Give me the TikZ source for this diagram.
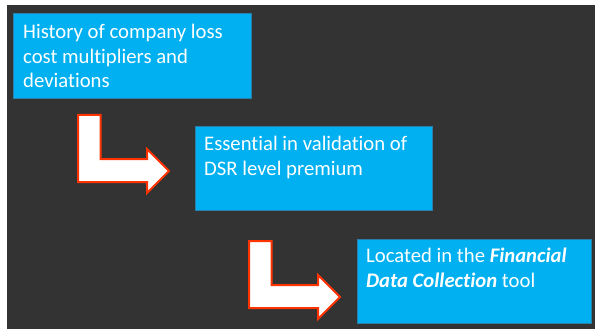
\documentclass[tikz,border=0pt]{standalone}
\usepackage{fontspec}
\setmainfont{Carlito}[RawFeature=-liga]
\definecolor{bgdark}{HTML}{333333}
\definecolor{boxblue}{HTML}{00B0F0}
\definecolor{boxedge}{HTML}{2A7FA8}
\definecolor{arrowred}{HTML}{FF3300}
\begin{document}
\begin{tikzpicture}[x=1pt,y=-1pt,
  infobox/.style={draw=boxedge, line width=0.8pt, fill=boxblue, inner sep=0pt, anchor=north west},
  infotext/.style={anchor=north west, inner sep=0pt, align=left, text=white,
    font=\fontsize{20.7}{24.7}\selectfont},
  bentarrow/.style={draw=arrowred, fill=white, line width=2pt, line join=miter}]
  % canvas
  \useasboundingbox (0,0) rectangle (595,329);
  \fill[white] (0,0) rectangle (595,329);
  \fill[bgdark] (7,5) rectangle (595,329);

  % text boxes
  \node[infobox, minimum width=238, minimum height=85] (b1) at (13,13) {};
  \node[infobox, minimum width=237, minimum height=84] (b2) at (195,126) {};
  \node[infobox, minimum width=234, minimum height=84] (b3) at (357,239) {};

  \node[infotext] (t1) at (23,24) {History of company loss\\cost multipliers and\\deviations};
  \node[infotext] (t2) at (204,136) {Essential in validation of\\DSR level premium};
  \node[infotext] (t3) at (366,248) {Located in the \textbf{\textit{Financial}}\\\textbf{\textit{Data Collection}} tool};

  % bent arrows between the boxes
  \foreach \dx/\dy in {78/115, 249/241}
    \draw[bentarrow, shift={(\dx,\dy)}]
      (0,0) -- (22.7,0) -- (22.7,44) -- (69,44) -- (69,34) -- (91,56)
      -- (69,78) -- (69,67) -- (0,67) -- cycle;
\end{tikzpicture}
\end{document}
